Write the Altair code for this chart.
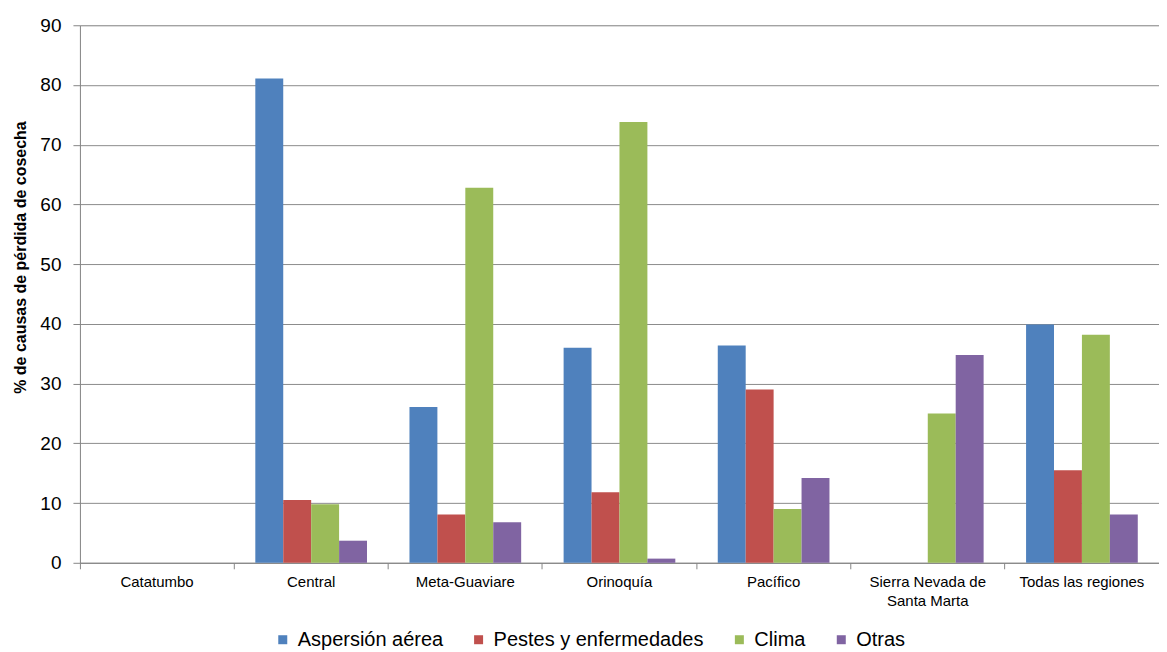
import altair as alt
import pandas as pd

regions = ["Catatumbo", "Central", "Meta-Guaviare", "Orinoquía", "Pacífico",
           "Sierra Nevada de Santa Marta", "Todas las regiones"]
series = ["Aspersión aérea", "Pestes y enfermedades", "Clima", "Otras"]
aspersion = [0, 81.1, 26.1, 36.0, 36.4, 0, 39.9]
pestes = [0, 10.5, 8.1, 11.8, 29.0, 0, 15.5]
clima = [0, 9.8, 62.8, 73.8, 9.0, 25.0, 38.2]
otras = [0, 3.7, 6.8, 0.7, 14.2, 34.8, 8.1]
colors = ["#4F81BD", "#C0504D", "#9BBB59", "#8064A2"]
y_ticks = [0, 10, 20, 30, 40, 50, 60, 70, 80, 90]

rows = []
for s, vals in zip(series, [aspersion, pestes, clima, otras]):
    for r, v in zip(regions, vals):
        rows.append({"region": r, "serie": s, "valor": v})
df = pd.DataFrame(rows)

FONT = "Liberation Sans"

label_expr = ("datum.label == 'Sierra Nevada de Santa Marta' ? "
              "['Sierra Nevada de', 'Santa Marta'] : datum.label")

chart = alt.Chart(df).mark_bar().encode(
    x=alt.X("region:N", sort=regions, title=None,
            scale=alt.Scale(paddingInner=0, paddingOuter=0),
            axis=alt.Axis(bandPosition=0, labelAngle=0, labelExpr=label_expr,
                          labelFont=FONT, labelFontSize=15, labelColor="#000000",
                          labelPadding=6, labelLineHeight=19,
                          domainColor="#868686", tickColor="#868686",
                          tickSize=6, grid=False)),
    xOffset=alt.XOffset("serie:N", sort=series,
                        scale=alt.Scale(paddingOuter=0.76, paddingInner=0)),
    y=alt.Y("valor:Q", title="% de causas de pérdida de cosecha",
            scale=alt.Scale(domain=[0, 90], nice=False),
            axis=alt.Axis(values=y_ticks, labelFont=FONT, labelFontSize=19,
                          labelColor="#000000", labelPadding=12,
                          domainColor="#868686", tickColor="#868686", tickSize=7,
                          gridColor="#8C8C8C", gridWidth=1,
                          titleFont=FONT, titleFontSize=16, titleFontWeight="bold",
                          titleColor="#000000", titleX=-51, titleY=232)),
    color=alt.Color("serie:N", sort=series,
                    scale=alt.Scale(domain=series, range=colors),
                    legend=alt.Legend(title=None, orient="none", direction="horizontal",
                                      legendX=193, legendY=605,
                                      symbolType="square", symbolSize=81,
                                      symbolStrokeWidth=0,
                                      labelFont=FONT, labelFontSize=20,
                                      labelColor="#000000", columnPadding=25,
                                      labelLimit=0, labelOffset=5)),
).properties(
    width=1080, height=538,
    padding={"left": 5, "top": 8, "right": 0, "bottom": 0},
).configure_view(stroke=None).configure(background="white")

chart.save("out.html", embed_options={"renderer": "svg", "actions": False})
